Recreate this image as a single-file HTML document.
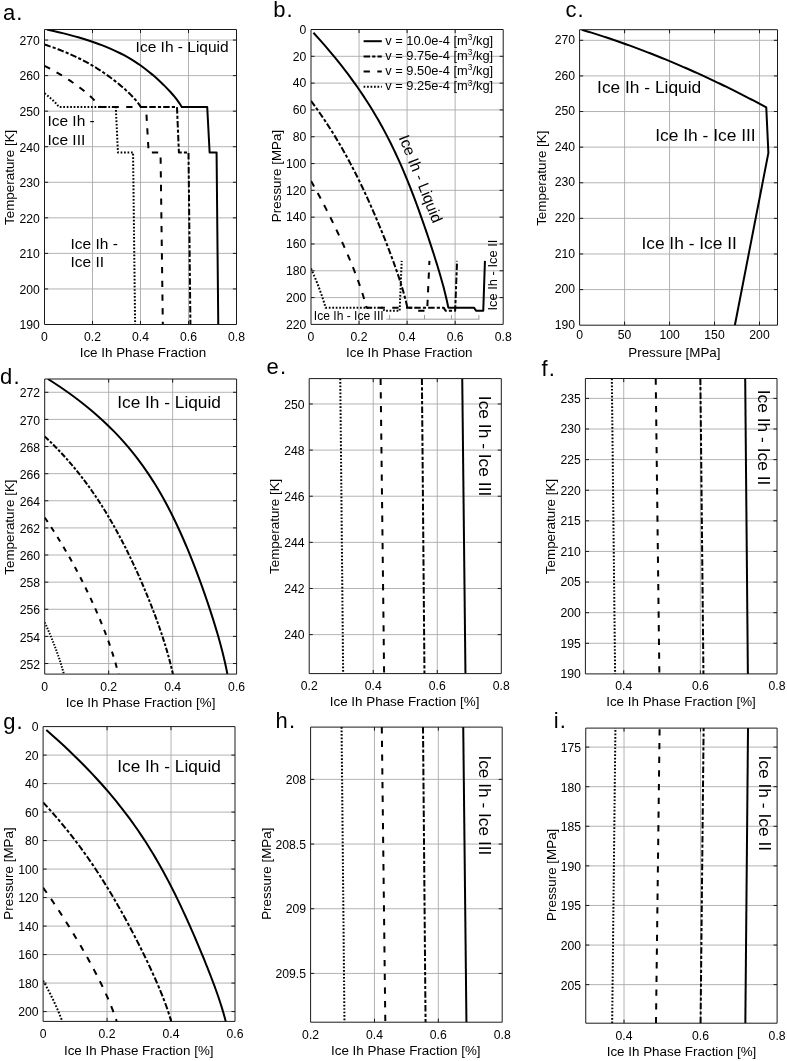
<!DOCTYPE html>
<html><head><meta charset="utf-8"><style>
html,body{margin:0;padding:0;background:#fff;font-family:"Liberation Sans",sans-serif;}
svg{display:block;}
svg{will-change:transform;}
</style></head><body>
<svg width="787" height="1061" viewBox="0 0 787 1061" font-family="'Liberation Sans', sans-serif" fill="#000">
<rect width="787" height="1061" fill="#fff"/>
<clipPath id="c1"><rect x="44.5" y="29.5" width="192.0" height="295.0"/></clipPath>
<path d="M92.50 29.5V324.5M140.50 29.5V324.5M188.50 29.5V324.5M44.5 288.94H236.5M44.5 253.39H236.5M44.5 217.83H236.5M44.5 182.28H236.5M44.5 146.72H236.5M44.5 111.17H236.5M44.5 75.61H236.5M44.5 40.06H236.5" stroke="#aaaaaa" stroke-width="0.9" fill="none"/>
<path d="M92.50 324.5v-3.6M92.50 29.5v3.6M140.50 324.5v-3.6M140.50 29.5v3.6M188.50 324.5v-3.6M188.50 29.5v3.6M44.5 288.94h3.6M236.5 288.94h-3.6M44.5 253.39h3.6M236.5 253.39h-3.6M44.5 217.83h3.6M236.5 217.83h-3.6M44.5 182.28h3.6M236.5 182.28h-3.6M44.5 146.72h3.6M236.5 146.72h-3.6M44.5 111.17h3.6M236.5 111.17h-3.6M44.5 75.61h3.6M236.5 75.61h-3.6M44.5 40.06h3.6M236.5 40.06h-3.6" stroke="#1a1a1a" stroke-width="1" fill="none"/>
<g clip-path="url(#c1)" fill="none" stroke="#000" stroke-width="2.0" stroke-linejoin="round">
<path d="M44.50 93.27 L44.73 93.45 L44.96 93.62 L45.18 93.80 L45.41 93.97 L45.63 94.14 L45.86 94.32 L46.08 94.49 L46.30 94.67 L46.52 94.84 L46.74 95.01 L46.96 95.19 L47.18 95.36 L47.39 95.53 L47.61 95.71 L47.82 95.88 L48.04 96.06 L48.25 96.23 L48.46 96.40 L48.67 96.58 L48.88 96.75 L49.09 96.93 L49.29 97.10 L49.50 97.27 L49.70 97.45 L49.91 97.62 L50.11 97.79 L50.31 97.97 L50.51 98.14 L50.71 98.32 L50.91 98.49 L51.10 98.66 L51.30 98.84 L51.49 99.01 L51.68 99.19 L51.88 99.36 L52.07 99.53 L52.26 99.71 L52.45 99.88 L52.63 100.06 L52.82 100.23 L53.00 100.40 L53.19 100.58 L53.37 100.75 L53.55 100.92 L53.73 101.10 L53.91 101.27 L54.08 101.45 L54.26 101.62 L54.44 101.79 L54.61 101.97 L54.78 102.14 L54.95 102.32 L55.12 102.49 L55.29 102.66 L55.46 102.84 L55.62 103.01 L55.78 103.18 L55.95 103.36 L56.11 103.53 L56.27 103.71 L56.43 103.88 L56.58 104.05 L56.74 104.23 L56.89 104.40 L57.05 104.58 L57.20 104.75 L57.35 104.92 L57.50 105.10 L57.64 105.27 L57.79 105.45 L57.93 105.62 L58.08 105.79 L58.22 105.97 L58.36 106.14 L58.50 106.31 L58.63 106.49 L58.77 106.66 L58.90 106.84 L59.03 107.01 L115.78 107.01 L117.94 152.41 L133.06 152.41 L135.10 324.50" stroke-dasharray="1.70 1.77"/>
<path d="M44.50 65.79 L45.53 66.31 L46.54 66.83 L47.54 67.36 L48.54 67.88 L49.52 68.40 L50.49 68.92 L51.45 69.44 L52.40 69.96 L53.34 70.49 L54.28 71.01 L55.20 71.53 L56.11 72.05 L57.02 72.57 L57.91 73.09 L58.80 73.62 L59.68 74.14 L60.55 74.66 L61.41 75.18 L62.27 75.70 L63.11 76.23 L63.95 76.75 L64.78 77.27 L65.60 77.79 L66.42 78.31 L67.23 78.83 L68.03 79.36 L68.82 79.88 L69.61 80.40 L70.39 80.92 L71.16 81.44 L71.93 81.97 L72.69 82.49 L73.44 83.01 L74.18 83.53 L74.92 84.05 L75.66 84.57 L76.38 85.10 L77.10 85.62 L77.81 86.14 L78.52 86.66 L79.22 87.18 L79.91 87.70 L80.59 88.23 L81.27 88.75 L81.94 89.27 L82.61 89.79 L83.26 90.31 L83.91 90.84 L84.56 91.36 L85.19 91.88 L85.82 92.40 L86.44 92.92 L87.06 93.44 L87.66 93.97 L88.26 94.49 L88.85 95.01 L89.44 95.53 L90.01 96.05 L90.58 96.57 L91.14 97.10 L91.69 97.62 L92.23 98.14 L92.76 98.66 L93.29 99.18 L93.80 99.71 L94.31 100.23 L94.80 100.75 L95.29 101.27 L95.76 101.79 L96.23 102.31 L96.68 102.84 L97.13 103.36 L97.56 103.88 L97.98 104.40 L98.39 104.92 L98.79 105.44 L99.18 105.97 L99.55 106.49 L99.92 107.01 L146.02 107.01 L148.66 152.41 L160.54 152.41 L162.82 324.50" stroke-dasharray="6.30 7.40"/>
<path d="M44.50 44.52 L46.89 45.31 L49.23 46.10 L51.50 46.89 L53.72 47.68 L55.88 48.47 L58.00 49.26 L60.06 50.05 L62.07 50.84 L64.03 51.64 L65.95 52.43 L67.83 53.22 L69.66 54.01 L71.45 54.80 L73.20 55.59 L74.91 56.38 L76.58 57.17 L78.22 57.96 L79.83 58.75 L81.40 59.55 L82.94 60.34 L84.44 61.13 L85.92 61.92 L87.37 62.71 L88.80 63.50 L90.19 64.29 L91.56 65.08 L92.91 65.87 L94.23 66.67 L95.54 67.46 L96.81 68.25 L98.07 69.04 L99.31 69.83 L100.53 70.62 L101.73 71.41 L102.91 72.20 L104.08 72.99 L105.23 73.78 L106.36 74.58 L107.48 75.37 L108.58 76.16 L109.67 76.95 L110.74 77.74 L111.80 78.53 L112.84 79.32 L113.88 80.11 L114.89 80.90 L115.90 81.70 L116.90 82.49 L117.88 83.28 L118.85 84.07 L119.80 84.86 L120.75 85.65 L121.68 86.44 L122.60 87.23 L123.51 88.02 L124.41 88.82 L125.29 89.61 L126.16 90.40 L127.02 91.19 L127.86 91.98 L128.70 92.77 L129.51 93.56 L130.32 94.35 L131.11 95.14 L131.88 95.93 L132.64 96.73 L133.38 97.52 L134.11 98.31 L134.81 99.10 L135.51 99.89 L136.18 100.68 L136.83 101.47 L137.46 102.26 L138.08 103.05 L138.67 103.85 L139.24 104.64 L139.78 105.43 L140.30 106.22 L140.80 107.01 L176.98 107.01 L178.90 152.41 L188.50 152.41 L190.42 324.50" stroke-dasharray="6.50 2.10 3.20 2.10"/>
<path d="M46.94 29.46 L51.34 30.45 L55.60 31.43 L59.70 32.41 L63.66 33.39 L67.49 34.37 L71.18 35.35 L74.75 36.34 L78.19 37.32 L81.51 38.30 L84.72 39.28 L87.82 40.26 L90.81 41.24 L93.69 42.23 L96.48 43.21 L99.18 44.19 L101.78 45.17 L104.29 46.15 L106.72 47.13 L109.07 48.11 L111.34 49.10 L113.54 50.08 L115.67 51.06 L117.73 52.04 L119.73 53.02 L121.66 54.00 L123.54 54.99 L125.36 55.97 L127.12 56.95 L128.84 57.93 L130.51 58.91 L132.13 59.89 L133.71 60.88 L135.25 61.86 L136.74 62.84 L138.21 63.82 L139.63 64.80 L141.03 65.78 L142.39 66.76 L143.72 67.75 L145.03 68.73 L146.31 69.71 L147.56 70.69 L148.80 71.67 L150.00 72.65 L151.19 73.64 L152.36 74.62 L153.51 75.60 L154.64 76.58 L155.75 77.56 L156.85 78.54 L157.93 79.53 L159.00 80.51 L160.05 81.49 L161.09 82.47 L162.11 83.45 L163.12 84.43 L164.11 85.41 L165.10 86.40 L166.06 87.38 L167.02 88.36 L167.96 89.34 L168.88 90.32 L169.80 91.30 L170.69 92.29 L171.57 93.27 L172.43 94.25 L173.28 95.23 L174.11 96.21 L174.92 97.19 L175.71 98.18 L176.47 99.16 L177.22 100.14 L177.94 101.12 L178.64 102.10 L179.30 103.08 L179.95 104.07 L180.56 105.05 L181.14 106.03 L181.69 107.01 L207.22 107.01 L209.62 152.41 L216.58 152.41 L218.26 324.50"/>
</g>
<path d="M44.5 29.5H236.5M44.5 324.5H236.5" stroke="#1a1a1a" stroke-width="1"/>
<path d="M44.5 29.5V324.5" stroke="#1a1a1a" stroke-width="1"/>
<path d="M236.5 29.5V324.5" stroke="#1a1a1a" stroke-width="1"/>
<text x="44.50" y="340.90" text-anchor="middle" font-size="12.2">0</text>
<text x="92.50" y="340.90" text-anchor="middle" font-size="12.2">0.2</text>
<text x="140.50" y="340.90" text-anchor="middle" font-size="12.2">0.4</text>
<text x="188.50" y="340.90" text-anchor="middle" font-size="12.2">0.6</text>
<text x="236.50" y="340.90" text-anchor="middle" font-size="12.2">0.8</text>
<text x="39.90" y="329.30" text-anchor="end" font-size="12.2">190</text>
<text x="39.90" y="293.74" text-anchor="end" font-size="12.2">200</text>
<text x="39.90" y="258.19" text-anchor="end" font-size="12.2">210</text>
<text x="39.90" y="222.63" text-anchor="end" font-size="12.2">220</text>
<text x="39.90" y="187.08" text-anchor="end" font-size="12.2">230</text>
<text x="39.90" y="151.52" text-anchor="end" font-size="12.2">240</text>
<text x="39.90" y="115.97" text-anchor="end" font-size="12.2">250</text>
<text x="39.90" y="80.41" text-anchor="end" font-size="12.2">260</text>
<text x="39.90" y="44.86" text-anchor="end" font-size="12.2">270</text>
<text x="142.95" y="356.80" text-anchor="middle" font-size="13.4">Ice Ih Phase Fraction</text>
<text transform="translate(14.20 177.30) rotate(-90)" text-anchor="middle" font-size="13.4">Temperature [K]</text>
<text x="3.0" y="19.5" font-size="22" letter-spacing="1.1">a.</text>
<text x="135.6" y="51.5" font-size="15.5">Ice Ih - Liquid</text>
<text x="47.4" y="126.4" font-size="15.5">Ice Ih -</text><text x="47.4" y="144.7" font-size="15.5">Ice III</text>
<text x="70.5" y="248.7" font-size="15.5">Ice Ih -</text><text x="70.5" y="267.4" font-size="15.5">Ice II</text>
<clipPath id="c2"><rect x="311.0" y="29.5" width="192.2" height="294.9"/></clipPath>
<path d="M359.05 29.5V324.4M407.10 29.5V324.4M455.15 29.5V324.4M311.0 56.31H503.2M311.0 83.12H503.2M311.0 109.93H503.2M311.0 136.74H503.2M311.0 163.55H503.2M311.0 190.35H503.2M311.0 217.16H503.2M311.0 243.97H503.2M311.0 270.78H503.2M311.0 297.59H503.2" stroke="#aaaaaa" stroke-width="0.9" fill="none"/>
<path d="M359.05 324.4v-3.6M359.05 29.5v3.6M407.10 324.4v-3.6M407.10 29.5v3.6M455.15 324.4v-3.6M455.15 29.5v3.6M311.0 56.31h3.6M503.2 56.31h-3.6M311.0 83.12h3.6M503.2 83.12h-3.6M311.0 109.93h3.6M503.2 109.93h-3.6M311.0 136.74h3.6M503.2 136.74h-3.6M311.0 163.55h3.6M503.2 163.55h-3.6M311.0 190.35h3.6M503.2 190.35h-3.6M311.0 217.16h3.6M503.2 217.16h-3.6M311.0 243.97h3.6M503.2 243.97h-3.6M311.0 270.78h3.6M503.2 270.78h-3.6M311.0 297.59h3.6M503.2 297.59h-3.6" stroke="#1a1a1a" stroke-width="1" fill="none"/>
<g clip-path="url(#c2)" fill="none" stroke="#000" stroke-width="2.0" stroke-linejoin="round">
<path d="M311.00 268.46 L311.23 268.97 L311.46 269.48 L311.68 269.99 L311.91 270.51 L312.13 271.02 L312.36 271.53 L312.58 272.03 L312.80 272.54 L313.02 273.05 L313.24 273.56 L313.46 274.07 L313.68 274.58 L313.90 275.08 L314.11 275.59 L314.33 276.09 L314.54 276.60 L314.75 277.10 L314.96 277.61 L315.17 278.11 L315.38 278.62 L315.59 279.12 L315.80 279.62 L316.00 280.13 L316.21 280.63 L316.41 281.13 L316.61 281.63 L316.81 282.13 L317.02 282.63 L317.21 283.13 L317.41 283.63 L317.61 284.13 L317.80 284.63 L318.00 285.13 L318.19 285.63 L318.38 286.13 L318.58 286.62 L318.76 287.12 L318.95 287.62 L319.14 288.11 L319.33 288.61 L319.51 289.10 L319.70 289.60 L319.88 290.09 L320.06 290.59 L320.24 291.08 L320.42 291.57 L320.59 292.07 L320.77 292.56 L320.95 293.05 L321.12 293.54 L321.29 294.04 L321.46 294.53 L321.63 295.02 L321.80 295.51 L321.97 296.00 L322.13 296.49 L322.30 296.98 L322.46 297.46 L322.62 297.95 L322.78 298.44 L322.94 298.93 L323.10 299.42 L323.25 299.90 L323.41 300.39 L323.56 300.88 L323.71 301.36 L323.86 301.85 L324.01 302.33 L324.16 302.82 L324.30 303.30 L324.45 303.79 L324.59 304.27 L324.73 304.75 L324.87 305.24 L325.01 305.72 L325.15 306.20 L325.28 306.68 L325.42 307.16 L325.55 307.64 L382.35 307.64 L384.52 310.82 L399.65 310.82 L401.69 260.86" stroke-dasharray="1.70 1.77"/>
<path d="M311.00 181.01 L312.03 182.81 L313.04 184.61 L314.05 186.40 L315.04 188.18 L316.02 189.96 L317.00 191.73 L317.96 193.50 L318.91 195.26 L319.85 197.01 L320.79 198.75 L321.71 200.50 L322.62 202.23 L323.53 203.96 L324.43 205.68 L325.32 207.40 L326.19 209.11 L327.07 210.82 L327.93 212.52 L328.78 214.22 L329.63 215.91 L330.47 217.59 L331.30 219.27 L332.13 220.94 L332.94 222.61 L333.75 224.28 L334.55 225.94 L335.35 227.59 L336.14 229.24 L336.92 230.88 L337.69 232.52 L338.46 234.15 L339.22 235.78 L339.97 237.41 L340.72 239.03 L341.46 240.64 L342.19 242.25 L342.91 243.86 L343.63 245.46 L344.35 247.06 L345.05 248.65 L345.75 250.24 L346.44 251.82 L347.13 253.40 L347.81 254.97 L348.48 256.54 L349.15 258.11 L349.80 259.67 L350.45 261.23 L351.10 262.79 L351.74 264.33 L352.37 265.88 L352.99 267.42 L353.60 268.96 L354.21 270.49 L354.81 272.02 L355.40 273.55 L355.98 275.07 L356.56 276.59 L357.13 278.10 L357.69 279.61 L358.24 281.12 L358.78 282.63 L359.31 284.12 L359.84 285.62 L360.35 287.11 L360.86 288.60 L361.35 290.09 L361.84 291.57 L362.32 293.05 L362.78 294.52 L363.24 295.99 L363.68 297.46 L364.12 298.93 L364.54 300.39 L364.95 301.85 L365.35 303.30 L365.74 304.75 L366.11 306.20 L366.47 307.64 L412.63 307.64 L415.27 310.82 L427.16 310.82 L429.44 260.86" stroke-dasharray="6.30 7.40"/>
<path d="M311.00 100.82 L313.40 104.08 L315.73 107.31 L318.01 110.52 L320.23 113.71 L322.40 116.87 L324.51 120.01 L326.57 123.12 L328.59 126.22 L330.55 129.29 L332.48 132.34 L334.35 135.37 L336.18 138.38 L337.98 141.36 L339.73 144.33 L341.44 147.28 L343.12 150.21 L344.76 153.13 L346.36 156.02 L347.94 158.90 L349.48 161.75 L350.99 164.60 L352.47 167.42 L353.92 170.23 L355.34 173.02 L356.74 175.80 L358.11 178.56 L359.46 181.30 L360.79 184.03 L362.09 186.74 L363.37 189.44 L364.63 192.13 L365.87 194.80 L367.09 197.46 L368.29 200.10 L369.47 202.73 L370.64 205.35 L371.79 207.95 L372.92 210.54 L374.04 213.12 L375.15 215.69 L376.23 218.24 L377.31 220.78 L378.37 223.31 L379.41 225.83 L380.45 228.33 L381.47 230.83 L382.48 233.31 L383.47 235.78 L384.45 238.24 L385.42 240.69 L386.38 243.13 L387.33 245.56 L388.26 247.98 L389.18 250.39 L390.09 252.79 L390.99 255.18 L391.87 257.56 L392.75 259.92 L393.61 262.28 L394.45 264.63 L395.28 266.97 L396.10 269.31 L396.91 271.63 L397.70 273.94 L398.47 276.25 L399.23 278.54 L399.97 280.83 L400.70 283.11 L401.41 285.38 L402.10 287.64 L402.77 289.90 L403.43 292.14 L404.06 294.38 L404.68 296.61 L405.27 298.83 L405.84 301.05 L406.38 303.25 L406.90 305.45 L407.40 307.64 L443.62 307.64 L445.54 310.82 L455.15 310.82 L457.07 260.86" stroke-dasharray="6.50 2.10 3.20 2.10"/>
<path d="M313.44 32.72 L317.85 37.59 L322.11 42.39 L326.22 47.12 L330.18 51.78 L334.02 56.38 L337.71 60.92 L341.28 65.41 L344.73 69.84 L348.05 74.21 L351.26 78.54 L354.36 82.81 L357.36 87.04 L360.25 91.23 L363.04 95.37 L365.73 99.46 L368.34 103.52 L370.85 107.53 L373.29 111.51 L375.64 115.45 L377.91 119.35 L380.11 123.22 L382.24 127.06 L384.31 130.86 L386.30 134.62 L388.24 138.36 L390.12 142.07 L391.94 145.74 L393.71 149.39 L395.43 153.00 L397.10 156.59 L398.72 160.16 L400.30 163.69 L401.84 167.20 L403.34 170.68 L404.80 174.14 L406.23 177.58 L407.63 180.99 L408.99 184.37 L410.33 187.74 L411.64 191.08 L412.92 194.40 L414.17 197.70 L415.40 200.97 L416.61 204.23 L417.80 207.46 L418.97 210.68 L420.12 213.88 L421.25 217.05 L422.37 220.21 L423.47 223.35 L424.55 226.47 L425.62 229.58 L426.67 232.66 L427.71 235.73 L428.73 238.78 L429.74 241.82 L430.74 244.84 L431.72 247.84 L432.69 250.83 L433.65 253.80 L434.59 256.76 L435.51 259.70 L436.43 262.63 L437.32 265.54 L438.20 268.44 L439.07 271.33 L439.91 274.20 L440.74 277.05 L441.55 279.90 L442.34 282.73 L443.11 285.55 L443.86 288.35 L444.58 291.14 L445.27 293.92 L445.95 296.69 L446.59 299.45 L447.20 302.19 L447.78 304.92 L448.33 307.64 L473.89 307.64 L476.29 310.82 L483.26 310.82 L484.94 260.86"/>
</g>
<path d="M311.0 29.5H503.2M311.0 324.4H503.2" stroke="#1a1a1a" stroke-width="1"/>
<path d="M311.0 29.5V324.4" stroke="#1a1a1a" stroke-width="1"/>
<path d="M503.2 29.5V324.4" stroke="#1a1a1a" stroke-width="1"/>
<text x="311.00" y="340.60" text-anchor="middle" font-size="12.2">0</text>
<text x="359.05" y="340.60" text-anchor="middle" font-size="12.2">0.2</text>
<text x="407.10" y="340.60" text-anchor="middle" font-size="12.2">0.4</text>
<text x="455.15" y="340.60" text-anchor="middle" font-size="12.2">0.6</text>
<text x="503.20" y="340.60" text-anchor="middle" font-size="12.2">0.8</text>
<text x="306.40" y="33.80" text-anchor="end" font-size="12.2">0</text>
<text x="306.40" y="60.61" text-anchor="end" font-size="12.2">20</text>
<text x="306.40" y="87.42" text-anchor="end" font-size="12.2">40</text>
<text x="306.40" y="114.23" text-anchor="end" font-size="12.2">60</text>
<text x="306.40" y="141.04" text-anchor="end" font-size="12.2">80</text>
<text x="306.40" y="167.85" text-anchor="end" font-size="12.2">100</text>
<text x="306.40" y="194.65" text-anchor="end" font-size="12.2">120</text>
<text x="306.40" y="221.46" text-anchor="end" font-size="12.2">140</text>
<text x="306.40" y="248.27" text-anchor="end" font-size="12.2">160</text>
<text x="306.40" y="275.08" text-anchor="end" font-size="12.2">180</text>
<text x="306.40" y="301.89" text-anchor="end" font-size="12.2">200</text>
<text x="306.40" y="328.70" text-anchor="end" font-size="12.2">220</text>
<text x="409.30" y="357.30" text-anchor="middle" font-size="13.4">Ice Ih Phase Fraction</text>
<text transform="translate(280.80 176.00) rotate(-90)" text-anchor="middle" font-size="13.4">Pressure [MPa]</text>
<text x="273.2" y="16.7" font-size="22" letter-spacing="1.1">b.</text>
<path d="M363.6 41.2H381.8" stroke="#000" stroke-width="2.0"/>
<text x="385.3" y="44.55" font-size="12.85">v = 10.0e-4 [m<tspan font-size="8.3" dy="-4.6">3</tspan><tspan dy="4.6">/kg]</tspan></text>
<path d="M363.6 56.400000000000006H381.8" stroke="#000" stroke-width="2.0" stroke-dasharray="6.5 2.1 3.2 2.1"/>
<text x="385.3" y="59.75" font-size="12.85">v = 9.75e-4 [m<tspan font-size="8.3" dy="-4.6">3</tspan><tspan dy="4.6">/kg]</tspan></text>
<path d="M363.6 71.6H381.8" stroke="#000" stroke-width="2.0" stroke-dasharray="6.3 7.4"/>
<text x="385.3" y="74.95" font-size="12.85">v = 9.50e-4 [m<tspan font-size="8.3" dy="-4.6">3</tspan><tspan dy="4.6">/kg]</tspan></text>
<path d="M363.6 86.8H381.8" stroke="#000" stroke-width="2.0" stroke-dasharray="1.7 1.77"/>
<text x="385.3" y="90.15" font-size="12.85">v = 9.25e-4 [m<tspan font-size="8.3" dy="-4.6">3</tspan><tspan dy="4.6">/kg]</tspan></text>
<text transform="translate(398.6 137.6) rotate(68.3)" font-size="15.5">Ice Ih - Liquid</text>
<text transform="translate(497.3 310.6) rotate(-90)" font-size="12.9">Ice Ih - Ice II</text>
<text x="313.8" y="319.5" font-size="12.1">Ice Ih - Ice III</text>
<path d="M386.3 319.2H479.4M389.6 319.2V315M424.5 319.2V315M451.5 319.2V315M478.9 319.2V315" stroke="#888" stroke-width="0.8" fill="none"/>
<clipPath id="c3"><rect x="579.6" y="29.7" width="197.89999999999998" height="295.5"/></clipPath>
<path d="M624.58 29.7V325.2M669.55 29.7V325.2M714.53 29.7V325.2M759.51 29.7V325.2M579.6 289.59H777.5M579.6 253.98H777.5M579.6 218.37H777.5M579.6 182.76H777.5M579.6 147.15H777.5M579.6 111.53H777.5M579.6 75.92H777.5M579.6 40.31H777.5" stroke="#aaaaaa" stroke-width="0.9" fill="none"/>
<path d="M624.58 325.2v-3.6M624.58 29.7v3.6M669.55 325.2v-3.6M669.55 29.7v3.6M714.53 325.2v-3.6M714.53 29.7v3.6M759.51 325.2v-3.6M759.51 29.7v3.6M579.6 289.59h3.6M777.5 289.59h-3.6M579.6 253.98h3.6M777.5 253.98h-3.6M579.6 218.37h3.6M777.5 218.37h-3.6M579.6 182.76h3.6M777.5 182.76h-3.6M579.6 147.15h3.6M777.5 147.15h-3.6M579.6 111.53h3.6M777.5 111.53h-3.6M579.6 75.92h3.6M777.5 75.92h-3.6M579.6 40.31h3.6M777.5 40.31h-3.6" stroke="#1a1a1a" stroke-width="1" fill="none"/>
<g clip-path="url(#c3)" fill="none" stroke="#000" stroke-width="2.0" stroke-linejoin="round">
<path d="M581.76 29.70 L585.03 30.68 L588.25 31.67 L591.42 32.65 L594.55 33.63 L597.64 34.62 L600.69 35.60 L603.70 36.58 L606.67 37.57 L609.61 38.55 L612.51 39.53 L615.38 40.51 L618.22 41.50 L621.02 42.48 L623.80 43.46 L626.55 44.45 L629.27 45.43 L631.97 46.41 L634.64 47.40 L637.28 48.38 L639.90 49.36 L642.49 50.35 L645.07 51.33 L647.62 52.31 L650.15 53.30 L652.65 54.28 L655.14 55.26 L657.61 56.24 L660.05 57.23 L662.48 58.21 L664.89 59.19 L667.28 60.18 L669.65 61.16 L672.01 62.14 L674.34 63.13 L676.67 64.11 L678.97 65.09 L681.26 66.08 L683.53 67.06 L685.79 68.04 L688.03 69.03 L690.26 70.01 L692.47 70.99 L694.67 71.97 L696.86 72.96 L699.03 73.94 L701.19 74.92 L703.33 75.91 L705.46 76.89 L707.58 77.87 L709.69 78.86 L711.78 79.84 L713.87 80.82 L715.94 81.81 L718.00 82.79 L720.05 83.77 L722.08 84.76 L724.11 85.74 L726.12 86.72 L728.13 87.70 L730.12 88.69 L732.11 89.67 L734.08 90.65 L736.05 91.64 L738.00 92.62 L739.95 93.60 L741.88 94.59 L743.81 95.57 L745.73 96.55 L747.64 97.54 L749.54 98.52 L751.43 99.50 L753.31 100.49 L755.18 101.47 L757.05 102.45 L758.91 103.44 L760.75 104.42 L762.60 105.40 L764.43 106.38 L766.26 107.37 L768.39 152.84 L734.86 325.20"/>
</g>
<path d="M579.6 29.7H777.5M579.6 325.2H777.5" stroke="#1a1a1a" stroke-width="1"/>
<path d="M579.6 29.7V325.2" stroke="#1a1a1a" stroke-width="1"/>
<path d="M777.5 29.7V325.2" stroke="#1a1a1a" stroke-width="1"/>
<text x="579.60" y="338.80" text-anchor="middle" font-size="12.2">0</text>
<text x="624.58" y="338.80" text-anchor="middle" font-size="12.2">50</text>
<text x="669.55" y="338.80" text-anchor="middle" font-size="12.2">100</text>
<text x="714.53" y="338.80" text-anchor="middle" font-size="12.2">150</text>
<text x="759.51" y="338.80" text-anchor="middle" font-size="12.2">200</text>
<text x="575.00" y="328.90" text-anchor="end" font-size="12.2">190</text>
<text x="575.00" y="293.29" text-anchor="end" font-size="12.2">200</text>
<text x="575.00" y="257.68" text-anchor="end" font-size="12.2">210</text>
<text x="575.00" y="222.07" text-anchor="end" font-size="12.2">220</text>
<text x="575.00" y="186.46" text-anchor="end" font-size="12.2">230</text>
<text x="575.00" y="150.85" text-anchor="end" font-size="12.2">240</text>
<text x="575.00" y="115.23" text-anchor="end" font-size="12.2">250</text>
<text x="575.00" y="79.62" text-anchor="end" font-size="12.2">260</text>
<text x="575.00" y="44.01" text-anchor="end" font-size="12.2">270</text>
<text x="674.40" y="357.00" text-anchor="middle" font-size="13.4">Pressure [MPa]</text>
<text transform="translate(545.90 178.20) rotate(-90)" text-anchor="middle" font-size="13.4">Temperature [K]</text>
<text x="565.4" y="17.0" font-size="22" letter-spacing="1.1">c.</text>
<text x="597.1" y="93.3" font-size="17.35">Ice Ih - Liquid</text>
<text x="655.2" y="140.7" font-size="17.4">Ice Ih - Ice III</text>
<text x="641.4" y="248.6" font-size="17.35">Ice Ih - Ice II</text>
<clipPath id="c4"><rect x="44.7" y="379.0" width="191.89999999999998" height="295.1"/></clipPath>
<path d="M108.67 379.0V674.1M172.63 379.0V674.1M44.7 663.52H236.6M44.7 636.40H236.6M44.7 609.28H236.6M44.7 582.15H236.6M44.7 555.03H236.6M44.7 527.91H236.6M44.7 500.78H236.6M44.7 473.66H236.6M44.7 446.54H236.6M44.7 419.41H236.6M44.7 392.29H236.6" stroke="#aaaaaa" stroke-width="0.9" fill="none"/>
<path d="M108.67 674.1v-3.6M108.67 379.0v3.6M172.63 674.1v-3.6M172.63 379.0v3.6M44.7 663.52h3.6M236.6 663.52h-3.6M44.7 636.40h3.6M236.6 636.40h-3.6M44.7 609.28h3.6M236.6 609.28h-3.6M44.7 582.15h3.6M236.6 582.15h-3.6M44.7 555.03h3.6M236.6 555.03h-3.6M44.7 527.91h3.6M236.6 527.91h-3.6M44.7 500.78h3.6M236.6 500.78h-3.6M44.7 473.66h3.6M236.6 473.66h-3.6M44.7 446.54h3.6M236.6 446.54h-3.6M44.7 419.41h3.6M236.6 419.41h-3.6M44.7 392.29h3.6M236.6 392.29h-3.6" stroke="#1a1a1a" stroke-width="1" fill="none"/>
<g clip-path="url(#c4)" fill="none" stroke="#000" stroke-width="2.0" stroke-linejoin="round">
<path d="M44.70 622.39 L45.00 623.05 L45.31 623.71 L45.61 624.38 L45.91 625.04 L46.21 625.70 L46.51 626.37 L46.80 627.03 L47.10 627.69 L47.39 628.36 L47.69 629.02 L47.98 629.68 L48.27 630.35 L48.56 631.01 L48.84 631.67 L49.13 632.33 L49.41 633.00 L49.69 633.66 L49.98 634.32 L50.26 634.99 L50.53 635.65 L50.81 636.31 L51.09 636.98 L51.36 637.64 L51.63 638.30 L51.90 638.97 L52.17 639.63 L52.44 640.29 L52.71 640.96 L52.97 641.62 L53.24 642.28 L53.50 642.95 L53.76 643.61 L54.02 644.27 L54.27 644.93 L54.53 645.60 L54.78 646.26 L55.04 646.92 L55.29 647.59 L55.54 648.25 L55.78 648.91 L56.03 649.58 L56.28 650.24 L56.52 650.90 L56.76 651.57 L57.00 652.23 L57.24 652.89 L57.47 653.56 L57.71 654.22 L57.94 654.88 L58.17 655.55 L58.40 656.21 L58.63 656.87 L58.85 657.54 L59.08 658.20 L59.30 658.86 L59.52 659.52 L59.74 660.19 L59.96 660.85 L60.17 661.51 L60.38 662.18 L60.59 662.84 L60.80 663.50 L61.01 664.17 L61.22 664.83 L61.42 665.49 L61.62 666.16 L61.82 666.82 L62.02 667.48 L62.22 668.15 L62.41 668.81 L62.60 669.47 L62.79 670.14 L62.98 670.80 L63.17 671.46 L63.35 672.13 L63.53 672.79 L63.71 673.45 L63.89 674.11 L64.07 674.78" stroke-dasharray="1.44 1.50"/>
<path d="M44.70 517.56 L46.07 519.55 L47.42 521.54 L48.76 523.53 L50.08 525.52 L51.39 527.51 L52.68 529.50 L53.96 531.49 L55.23 533.48 L56.49 535.47 L57.73 537.46 L58.96 539.45 L60.18 541.44 L61.38 543.43 L62.57 545.42 L63.76 547.41 L64.93 549.40 L66.09 551.39 L67.24 553.38 L68.37 555.37 L69.50 557.36 L70.62 559.35 L71.73 561.34 L72.82 563.33 L73.91 565.32 L74.99 567.31 L76.06 569.30 L77.11 571.29 L78.16 573.28 L79.20 575.27 L80.23 577.26 L81.25 579.25 L82.26 581.24 L83.27 583.23 L84.26 585.22 L85.24 587.21 L86.22 589.20 L87.19 591.19 L88.14 593.18 L89.09 595.17 L90.03 597.16 L90.96 599.15 L91.88 601.14 L92.80 603.13 L93.70 605.12 L94.60 607.11 L95.48 609.10 L96.36 611.09 L97.22 613.08 L98.08 615.07 L98.93 617.06 L99.77 619.05 L100.60 621.04 L101.41 623.03 L102.22 625.02 L103.02 627.01 L103.81 629.00 L104.59 630.99 L105.35 632.98 L106.11 634.97 L106.85 636.97 L107.58 638.96 L108.31 640.95 L109.02 642.94 L109.71 644.93 L110.40 646.92 L111.07 648.91 L111.73 650.90 L112.38 652.89 L113.01 654.88 L113.63 656.87 L114.24 658.86 L114.83 660.85 L115.41 662.84 L115.97 664.83 L116.52 666.82 L117.05 668.81 L117.57 670.80 L118.07 672.79 L118.55 674.78" stroke-dasharray="5.32 6.25"/>
<path d="M44.70 436.41 L47.89 439.43 L51.00 442.44 L54.03 445.46 L56.99 448.48 L59.87 451.49 L62.69 454.51 L65.43 457.53 L68.11 460.55 L70.73 463.56 L73.29 466.58 L75.79 469.60 L78.23 472.62 L80.61 475.63 L82.94 478.65 L85.22 481.67 L87.46 484.69 L89.64 487.70 L91.78 490.72 L93.87 493.74 L95.92 496.75 L97.93 499.77 L99.90 502.79 L101.84 505.81 L103.73 508.82 L105.59 511.84 L107.42 514.86 L109.21 517.88 L110.98 520.89 L112.71 523.91 L114.42 526.93 L116.09 529.95 L117.74 532.96 L119.37 535.98 L120.97 539.00 L122.54 542.02 L124.10 545.03 L125.63 548.05 L127.14 551.07 L128.63 554.08 L130.09 557.10 L131.54 560.12 L132.97 563.14 L134.38 566.15 L135.78 569.17 L137.15 572.19 L138.51 575.21 L139.85 578.22 L141.18 581.24 L142.49 584.26 L143.78 587.28 L145.05 590.29 L146.31 593.31 L147.56 596.33 L148.78 599.34 L149.99 602.36 L151.19 605.38 L152.36 608.40 L153.53 611.41 L154.67 614.43 L155.79 617.45 L156.90 620.47 L157.99 623.48 L159.06 626.50 L160.11 629.52 L161.15 632.54 L162.16 635.55 L163.15 638.57 L164.11 641.59 L165.06 644.60 L165.98 647.62 L166.87 650.64 L167.74 653.66 L168.59 656.67 L169.41 659.69 L170.19 662.71 L170.95 665.73 L171.68 668.74 L172.37 671.76 L173.03 674.78" stroke-dasharray="5.49 1.77 2.70 1.77"/>
<path d="M47.95 379.00 L53.82 382.74 L59.49 386.49 L64.96 390.23 L70.24 393.98 L75.34 397.72 L80.26 401.46 L85.01 405.21 L89.60 408.95 L94.03 412.70 L98.30 416.44 L102.43 420.18 L106.41 423.93 L110.26 427.67 L113.97 431.42 L117.56 435.16 L121.03 438.90 L124.38 442.65 L127.62 446.39 L130.75 450.14 L133.78 453.88 L136.71 457.62 L139.54 461.37 L142.29 465.11 L144.95 468.86 L147.53 472.60 L150.03 476.34 L152.45 480.09 L154.81 483.83 L157.09 487.58 L159.32 491.32 L161.48 495.06 L163.58 498.81 L165.63 502.55 L167.63 506.30 L169.58 510.04 L171.48 513.78 L173.34 517.53 L175.15 521.27 L176.93 525.02 L178.67 528.76 L180.38 532.51 L182.05 536.25 L183.69 539.99 L185.30 543.74 L186.88 547.48 L188.44 551.23 L189.97 554.97 L191.48 558.71 L192.96 562.46 L194.42 566.20 L195.86 569.95 L197.28 573.69 L198.69 577.43 L200.07 581.18 L201.43 584.92 L202.78 588.67 L204.10 592.41 L205.41 596.15 L206.70 599.90 L207.97 603.64 L209.23 607.39 L210.46 611.13 L211.67 614.87 L212.87 618.62 L214.04 622.36 L215.19 626.11 L216.32 629.85 L217.42 633.59 L218.50 637.34 L219.55 641.08 L220.57 644.83 L221.56 648.57 L222.53 652.31 L223.45 656.06 L224.35 659.80 L225.20 663.55 L226.02 667.29 L226.79 671.03 L227.52 674.78"/>
</g>
<path d="M44.7 379.0H236.6M44.7 674.1H236.6" stroke="#1a1a1a" stroke-width="1"/>
<path d="M44.7 379.0V674.1" stroke="#1a1a1a" stroke-width="1"/>
<path d="M236.6 379.0V674.1" stroke="#1a1a1a" stroke-width="1"/>
<text x="44.70" y="690.50" text-anchor="middle" font-size="12.2">0</text>
<text x="108.67" y="690.50" text-anchor="middle" font-size="12.2">0.2</text>
<text x="172.63" y="690.50" text-anchor="middle" font-size="12.2">0.4</text>
<text x="236.60" y="690.50" text-anchor="middle" font-size="12.2">0.6</text>
<text x="40.10" y="668.72" text-anchor="end" font-size="12.2">252</text>
<text x="40.10" y="641.60" text-anchor="end" font-size="12.2">254</text>
<text x="40.10" y="614.48" text-anchor="end" font-size="12.2">256</text>
<text x="40.10" y="587.35" text-anchor="end" font-size="12.2">258</text>
<text x="40.10" y="560.23" text-anchor="end" font-size="12.2">260</text>
<text x="40.10" y="533.11" text-anchor="end" font-size="12.2">262</text>
<text x="40.10" y="505.98" text-anchor="end" font-size="12.2">264</text>
<text x="40.10" y="478.86" text-anchor="end" font-size="12.2">266</text>
<text x="40.10" y="451.74" text-anchor="end" font-size="12.2">268</text>
<text x="40.10" y="424.61" text-anchor="end" font-size="12.2">270</text>
<text x="40.10" y="397.49" text-anchor="end" font-size="12.2">272</text>
<text x="140.60" y="706.70" text-anchor="middle" font-size="13.4">Ice Ih Phase Fraction [%]</text>
<text transform="translate(14.10 527.10) rotate(-90)" text-anchor="middle" font-size="13.4">Temperature [K]</text>
<text x="0.1" y="383.9" font-size="22" letter-spacing="1.1">d.</text>
<text x="117.2" y="408.0" font-size="17.3">Ice Ih - Liquid</text>
<clipPath id="c5"><rect x="309.2" y="378.6" width="192.10000000000002" height="295.0"/></clipPath>
<path d="M373.23 378.6V673.6M437.27 378.6V673.6M309.2 634.62H501.3M309.2 588.49H501.3M309.2 542.36H501.3M309.2 496.23H501.3M309.2 450.10H501.3M309.2 403.97H501.3" stroke="#aaaaaa" stroke-width="0.9" fill="none"/>
<path d="M373.23 673.6v-3.6M373.23 378.6v3.6M437.27 673.6v-3.6M437.27 378.6v3.6M309.2 634.62h3.6M501.3 634.62h-3.6M309.2 588.49h3.6M501.3 588.49h-3.6M309.2 542.36h3.6M501.3 542.36h-3.6M309.2 496.23h3.6M501.3 496.23h-3.6M309.2 450.10h3.6M501.3 450.10h-3.6M309.2 403.97h3.6M501.3 403.97h-3.6" stroke="#1a1a1a" stroke-width="1" fill="none"/>
<g clip-path="url(#c5)" fill="none" stroke="#000" stroke-width="2.0" stroke-linejoin="round">
<path d="M340.26 378.60 L343.14 673.60" stroke-dasharray="1.70 1.77"/>
<path d="M380.60 378.60 L384.12 673.60" stroke-dasharray="6.30 7.40"/>
<path d="M421.90 378.60 L424.46 673.60" stroke-dasharray="6.50 2.10 3.20 2.10"/>
<path d="M462.24 378.60 L465.44 673.60"/>
</g>
<path d="M309.2 378.6H501.3M309.2 673.6H501.3" stroke="#1a1a1a" stroke-width="1"/>
<path d="M309.2 378.6V673.6" stroke="#1a1a1a" stroke-width="1"/>
<path d="M501.3 378.6V673.6" stroke="#1a1a1a" stroke-width="1"/>
<text x="309.20" y="689.80" text-anchor="middle" font-size="12.2">0.2</text>
<text x="373.23" y="689.80" text-anchor="middle" font-size="12.2">0.4</text>
<text x="437.27" y="689.80" text-anchor="middle" font-size="12.2">0.6</text>
<text x="501.30" y="689.80" text-anchor="middle" font-size="12.2">0.8</text>
<text x="304.60" y="639.22" text-anchor="end" font-size="12.2">240</text>
<text x="304.60" y="593.09" text-anchor="end" font-size="12.2">242</text>
<text x="304.60" y="546.96" text-anchor="end" font-size="12.2">244</text>
<text x="304.60" y="500.83" text-anchor="end" font-size="12.2">246</text>
<text x="304.60" y="454.70" text-anchor="end" font-size="12.2">248</text>
<text x="304.60" y="408.57" text-anchor="end" font-size="12.2">250</text>
<text x="404.60" y="706.00" text-anchor="middle" font-size="13.4">Ice Ih Phase Fraction [%]</text>
<text transform="translate(279.20 526.30) rotate(-90)" text-anchor="middle" font-size="13.4">Temperature [K]</text>
<text x="266.6" y="373.5" font-size="22" letter-spacing="1.1">e.</text>
<text transform="translate(478.6 395.8) rotate(90)" font-size="17.4">Ice Ih - Ice III</text>
<clipPath id="c6"><rect x="585.4" y="378.5" width="191.60000000000002" height="295.4"/></clipPath>
<path d="M623.72 378.5V673.9M700.36 378.5V673.9M585.4 643.29H777.0M585.4 612.68H777.0M585.4 582.07H777.0M585.4 551.45H777.0M585.4 520.84H777.0M585.4 490.23H777.0M585.4 459.62H777.0M585.4 429.01H777.0M585.4 398.40H777.0" stroke="#aaaaaa" stroke-width="0.9" fill="none"/>
<path d="M623.72 673.9v-3.6M623.72 378.5v3.6M700.36 673.9v-3.6M700.36 378.5v3.6M585.4 643.29h3.6M777.0 643.29h-3.6M585.4 612.68h3.6M777.0 612.68h-3.6M585.4 582.07h3.6M777.0 582.07h-3.6M585.4 551.45h3.6M777.0 551.45h-3.6M585.4 520.84h3.6M777.0 520.84h-3.6M585.4 490.23h3.6M777.0 490.23h-3.6M585.4 459.62h3.6M777.0 459.62h-3.6M585.4 429.01h3.6M777.0 429.01h-3.6M585.4 398.40h3.6M777.0 398.40h-3.6" stroke="#1a1a1a" stroke-width="1" fill="none"/>
<g clip-path="url(#c6)" fill="none" stroke="#000" stroke-width="2.0" stroke-linejoin="round">
<path d="M611.84 378.50 L615.10 673.90" stroke-dasharray="1.70 1.77"/>
<path d="M655.72 378.50 L659.36 673.90" stroke-dasharray="6.30 7.40"/>
<path d="M700.36 378.50 L703.43 673.90" stroke-dasharray="6.50 2.10 3.20 2.10"/>
<path d="M745.19 378.50 L747.88 673.90"/>
</g>
<path d="M585.4 378.5H777.0M585.4 673.9H777.0" stroke="#1a1a1a" stroke-width="1"/>
<path d="M585.4 378.5V673.9" stroke="#1a1a1a" stroke-width="1"/>
<path d="M777.0 378.5V673.9" stroke="#1a1a1a" stroke-width="1"/>
<text x="623.72" y="690.30" text-anchor="middle" font-size="12.2">0.4</text>
<text x="700.36" y="690.30" text-anchor="middle" font-size="12.2">0.6</text>
<text x="777.00" y="690.30" text-anchor="middle" font-size="12.2">0.8</text>
<text x="580.80" y="678.25" text-anchor="end" font-size="12.2">190</text>
<text x="580.80" y="647.64" text-anchor="end" font-size="12.2">195</text>
<text x="580.80" y="617.03" text-anchor="end" font-size="12.2">200</text>
<text x="580.80" y="586.42" text-anchor="end" font-size="12.2">205</text>
<text x="580.80" y="555.80" text-anchor="end" font-size="12.2">210</text>
<text x="580.80" y="525.19" text-anchor="end" font-size="12.2">215</text>
<text x="580.80" y="494.58" text-anchor="end" font-size="12.2">220</text>
<text x="580.80" y="463.97" text-anchor="end" font-size="12.2">225</text>
<text x="580.80" y="433.36" text-anchor="end" font-size="12.2">230</text>
<text x="580.80" y="402.75" text-anchor="end" font-size="12.2">235</text>
<text x="681.00" y="706.00" text-anchor="middle" font-size="13.4">Ice Ih Phase Fraction [%]</text>
<text transform="translate(554.90 526.50) rotate(-90)" text-anchor="middle" font-size="13.4">Temperature [K]</text>
<text x="541.6" y="375.6" font-size="22" letter-spacing="1.1">f.</text>
<text transform="translate(758.0 389.7) rotate(90)" font-size="17.4">Ice Ih - Ice II</text>
<clipPath id="c7"><rect x="43.1" y="726.6" width="191.9" height="294.79999999999995"/></clipPath>
<path d="M107.07 726.6V1021.4M171.03 726.6V1021.4M43.1 755.10H235.0M43.1 783.59H235.0M43.1 812.09H235.0M43.1 840.59H235.0M43.1 869.08H235.0M43.1 897.58H235.0M43.1 926.08H235.0M43.1 954.57H235.0M43.1 983.07H235.0M43.1 1011.57H235.0" stroke="#aaaaaa" stroke-width="0.9" fill="none"/>
<path d="M107.07 1021.4v-3.6M107.07 726.6v3.6M171.03 1021.4v-3.6M171.03 726.6v3.6M43.1 755.10h3.6M235.0 755.10h-3.6M43.1 783.59h3.6M235.0 783.59h-3.6M43.1 812.09h3.6M235.0 812.09h-3.6M43.1 840.59h3.6M235.0 840.59h-3.6M43.1 869.08h3.6M235.0 869.08h-3.6M43.1 897.58h3.6M235.0 897.58h-3.6M43.1 926.08h3.6M235.0 926.08h-3.6M43.1 954.57h3.6M235.0 954.57h-3.6M43.1 983.07h3.6M235.0 983.07h-3.6M43.1 1011.57h3.6M235.0 1011.57h-3.6" stroke="#1a1a1a" stroke-width="1" fill="none"/>
<g clip-path="url(#c7)" fill="none" stroke="#000" stroke-width="2.0" stroke-linejoin="round">
<path d="M43.10 980.60 L43.40 981.15 L43.71 981.69 L44.01 982.24 L44.31 982.78 L44.61 983.32 L44.91 983.86 L45.20 984.40 L45.50 984.94 L45.79 985.48 L46.09 986.03 L46.38 986.56 L46.67 987.10 L46.96 987.64 L47.24 988.18 L47.53 988.72 L47.81 989.26 L48.09 989.79 L48.38 990.33 L48.66 990.87 L48.93 991.40 L49.21 991.94 L49.49 992.47 L49.76 993.00 L50.03 993.54 L50.30 994.07 L50.57 994.60 L50.84 995.14 L51.11 995.67 L51.37 996.20 L51.64 996.73 L51.90 997.26 L52.16 997.79 L52.42 998.32 L52.67 998.85 L52.93 999.38 L53.18 999.91 L53.44 1000.44 L53.69 1000.97 L53.94 1001.49 L54.18 1002.02 L54.43 1002.55 L54.68 1003.07 L54.92 1003.60 L55.16 1004.12 L55.40 1004.65 L55.64 1005.17 L55.87 1005.70 L56.11 1006.22 L56.34 1006.74 L56.57 1007.27 L56.80 1007.79 L57.03 1008.31 L57.25 1008.83 L57.48 1009.35 L57.70 1009.87 L57.92 1010.40 L58.14 1010.92 L58.36 1011.43 L58.57 1011.95 L58.78 1012.47 L58.99 1012.99 L59.20 1013.51 L59.41 1014.03 L59.62 1014.54 L59.82 1015.06 L60.02 1015.58 L60.22 1016.09 L60.42 1016.61 L60.62 1017.12 L60.81 1017.64 L61.00 1018.15 L61.19 1018.67 L61.38 1019.18 L61.57 1019.69 L61.75 1020.21 L61.93 1020.72 L62.11 1021.23 L62.29 1021.74 L62.47 1022.25" stroke-dasharray="1.70 1.77"/>
<path d="M43.10 887.65 L44.47 889.56 L45.82 891.47 L47.16 893.38 L48.48 895.27 L49.79 897.16 L51.08 899.04 L52.36 900.92 L53.63 902.79 L54.89 904.65 L56.13 906.51 L57.36 908.36 L58.58 910.20 L59.78 912.04 L60.97 913.87 L62.16 915.70 L63.33 917.52 L64.49 919.33 L65.64 921.14 L66.77 922.94 L67.90 924.74 L69.02 926.53 L70.13 928.32 L71.22 930.10 L72.31 931.87 L73.39 933.64 L74.46 935.40 L75.51 937.16 L76.56 938.91 L77.60 940.66 L78.63 942.40 L79.65 944.14 L80.66 945.87 L81.67 947.60 L82.66 949.32 L83.64 951.04 L84.62 952.75 L85.59 954.45 L86.54 956.16 L87.49 957.85 L88.43 959.55 L89.36 961.23 L90.28 962.92 L91.20 964.60 L92.10 966.27 L93.00 967.94 L93.88 969.60 L94.76 971.26 L95.62 972.92 L96.48 974.57 L97.33 976.22 L98.17 977.86 L99.00 979.50 L99.81 981.13 L100.62 982.77 L101.42 984.39 L102.21 986.01 L102.99 987.63 L103.75 989.25 L104.51 990.86 L105.25 992.46 L105.98 994.06 L106.71 995.66 L107.42 997.25 L108.11 998.84 L108.80 1000.43 L109.47 1002.01 L110.13 1003.59 L110.78 1005.17 L111.41 1006.74 L112.03 1008.31 L112.64 1009.87 L113.23 1011.43 L113.81 1012.99 L114.37 1014.54 L114.92 1016.09 L115.45 1017.64 L115.97 1019.18 L116.47 1020.72 L116.95 1022.25" stroke-dasharray="6.30 7.40"/>
<path d="M43.10 802.41 L46.29 805.87 L49.40 809.31 L52.43 812.72 L55.39 816.11 L58.27 819.47 L61.09 822.81 L63.83 826.12 L66.51 829.41 L69.13 832.67 L71.69 835.91 L74.19 839.13 L76.63 842.33 L79.01 845.51 L81.34 848.66 L83.62 851.80 L85.86 854.91 L88.04 858.01 L90.18 861.08 L92.27 864.14 L94.32 867.18 L96.33 870.20 L98.30 873.20 L100.24 876.19 L102.13 879.16 L103.99 882.11 L105.82 885.04 L107.61 887.96 L109.38 890.86 L111.11 893.74 L112.82 896.61 L114.49 899.47 L116.14 902.31 L117.77 905.13 L119.37 907.94 L120.94 910.74 L122.50 913.52 L124.03 916.29 L125.54 919.04 L127.03 921.78 L128.49 924.51 L129.94 927.22 L131.37 929.92 L132.78 932.61 L134.18 935.29 L135.55 937.95 L136.91 940.60 L138.25 943.24 L139.58 945.87 L140.89 948.49 L142.18 951.09 L143.45 953.68 L144.71 956.27 L145.96 958.84 L147.18 961.40 L148.39 963.95 L149.59 966.48 L150.76 969.01 L151.93 971.53 L153.07 974.04 L154.19 976.54 L155.30 979.03 L156.39 981.50 L157.46 983.97 L158.51 986.43 L159.55 988.88 L160.56 991.32 L161.55 993.75 L162.51 996.18 L163.46 998.59 L164.38 1000.99 L165.27 1003.39 L166.14 1005.78 L166.99 1008.16 L167.81 1010.53 L168.59 1012.89 L169.35 1015.24 L170.08 1017.59 L170.77 1019.93 L171.43 1022.25" stroke-dasharray="6.50 2.10 3.20 2.10"/>
<path d="M46.35 730.02 L52.22 735.20 L57.89 740.30 L63.36 745.33 L68.64 750.28 L73.74 755.17 L78.66 760.00 L83.41 764.77 L88.00 769.48 L92.43 774.13 L96.70 778.72 L100.83 783.27 L104.81 787.76 L108.66 792.21 L112.37 796.61 L115.96 800.97 L119.43 805.28 L122.78 809.55 L126.02 813.77 L129.15 817.96 L132.18 822.11 L135.11 826.22 L137.94 830.30 L140.69 834.34 L143.35 838.34 L145.93 842.31 L148.43 846.25 L150.85 850.16 L153.21 854.03 L155.49 857.88 L157.72 861.69 L159.88 865.48 L161.98 869.24 L164.03 872.97 L166.03 876.67 L167.98 880.35 L169.88 884.00 L171.74 887.62 L173.55 891.22 L175.33 894.80 L177.07 898.35 L178.78 901.88 L180.45 905.38 L182.09 908.87 L183.70 912.33 L185.28 915.77 L186.84 919.19 L188.37 922.58 L189.88 925.96 L191.36 929.32 L192.82 932.65 L194.26 935.97 L195.68 939.27 L197.09 942.55 L198.47 945.82 L199.83 949.06 L201.18 952.29 L202.50 955.50 L203.81 958.69 L205.10 961.86 L206.37 965.02 L207.63 968.17 L208.86 971.29 L210.07 974.41 L211.27 977.50 L212.44 980.58 L213.59 983.65 L214.72 986.70 L215.82 989.74 L216.90 992.76 L217.95 995.77 L218.97 998.77 L219.96 1001.75 L220.93 1004.72 L221.85 1007.67 L222.75 1010.61 L223.60 1013.54 L224.42 1016.46 L225.19 1019.36 L225.92 1022.25"/>
</g>
<path d="M43.1 726.6H235.0M43.1 1021.4H235.0" stroke="#1a1a1a" stroke-width="1"/>
<path d="M43.1 726.6V1021.4" stroke="#1a1a1a" stroke-width="1"/>
<path d="M235.0 726.6V1021.4" stroke="#1a1a1a" stroke-width="1"/>
<text x="43.10" y="1038.10" text-anchor="middle" font-size="12.2">0</text>
<text x="107.07" y="1038.10" text-anchor="middle" font-size="12.2">0.2</text>
<text x="171.03" y="1038.10" text-anchor="middle" font-size="12.2">0.4</text>
<text x="235.00" y="1038.10" text-anchor="middle" font-size="12.2">0.6</text>
<text x="38.50" y="731.30" text-anchor="end" font-size="12.2">0</text>
<text x="38.50" y="759.80" text-anchor="end" font-size="12.2">20</text>
<text x="38.50" y="788.29" text-anchor="end" font-size="12.2">40</text>
<text x="38.50" y="816.79" text-anchor="end" font-size="12.2">60</text>
<text x="38.50" y="845.29" text-anchor="end" font-size="12.2">80</text>
<text x="38.50" y="873.78" text-anchor="end" font-size="12.2">100</text>
<text x="38.50" y="902.28" text-anchor="end" font-size="12.2">120</text>
<text x="38.50" y="930.78" text-anchor="end" font-size="12.2">140</text>
<text x="38.50" y="959.27" text-anchor="end" font-size="12.2">160</text>
<text x="38.50" y="987.77" text-anchor="end" font-size="12.2">180</text>
<text x="38.50" y="1016.27" text-anchor="end" font-size="12.2">200</text>
<text x="138.75" y="1055.00" text-anchor="middle" font-size="13.4">Ice Ih Phase Fraction [%]</text>
<text transform="translate(12.60 873.50) rotate(-90)" text-anchor="middle" font-size="13.4">Pressure [MPa]</text>
<text x="3.2" y="729.0" font-size="22" letter-spacing="1.1">g.</text>
<text x="117.2" y="772.1" font-size="17.3">Ice Ih - Liquid</text>
<clipPath id="c8"><rect x="310.6" y="727.1" width="191.59999999999997" height="295.1"/></clipPath>
<path d="M374.47 727.1V1022.2M438.33 727.1V1022.2M310.6 779.37H502.2M310.6 844.05H502.2M310.6 908.74H502.2M310.6 973.43H502.2" stroke="#aaaaaa" stroke-width="0.9" fill="none"/>
<path d="M374.47 1022.2v-3.6M374.47 727.1v3.6M438.33 1022.2v-3.6M438.33 727.1v3.6M310.6 779.37h3.6M502.2 779.37h-3.6M310.6 844.05h3.6M502.2 844.05h-3.6M310.6 908.74h3.6M502.2 908.74h-3.6M310.6 973.43h3.6M502.2 973.43h-3.6" stroke="#1a1a1a" stroke-width="1" fill="none"/>
<g clip-path="url(#c8)" fill="none" stroke="#000" stroke-width="2.0" stroke-linejoin="round">
<path d="M341.58 727.10 L344.45 1022.20" stroke-dasharray="1.70 1.77"/>
<path d="M381.81 727.10 L385.32 1022.20" stroke-dasharray="6.30 7.40"/>
<path d="M423.01 727.10 L425.56 1022.20" stroke-dasharray="6.50 2.10 3.20 2.10"/>
<path d="M463.24 727.10 L466.43 1022.20"/>
</g>
<path d="M310.6 727.1H502.2M310.6 1022.2H502.2" stroke="#1a1a1a" stroke-width="1"/>
<path d="M310.6 727.1V1022.2" stroke="#1a1a1a" stroke-width="1"/>
<path d="M502.2 727.1V1022.2" stroke="#1a1a1a" stroke-width="1"/>
<text x="310.60" y="1039.00" text-anchor="middle" font-size="12.2">0.2</text>
<text x="374.47" y="1039.00" text-anchor="middle" font-size="12.2">0.4</text>
<text x="438.33" y="1039.00" text-anchor="middle" font-size="12.2">0.6</text>
<text x="502.20" y="1039.00" text-anchor="middle" font-size="12.2">0.8</text>
<text x="306.00" y="784.07" text-anchor="end" font-size="12.2">208</text>
<text x="306.00" y="848.75" text-anchor="end" font-size="12.2">208.5</text>
<text x="306.00" y="913.44" text-anchor="end" font-size="12.2">209</text>
<text x="306.00" y="978.13" text-anchor="end" font-size="12.2">209.5</text>
<text x="405.80" y="1055.40" text-anchor="middle" font-size="13.4">Ice Ih Phase Fraction [%]</text>
<text transform="translate(271.30 873.70) rotate(-90)" text-anchor="middle" font-size="13.4">Pressure [MPa]</text>
<text x="275.6" y="728.1" font-size="22" letter-spacing="1.1">h.</text>
<text transform="translate(478.8 755.4) rotate(90)" font-size="17.3">Ice Ih - Ice III</text>
<clipPath id="c9"><rect x="585.75" y="728.1" width="191.35000000000002" height="295.1"/></clipPath>
<path d="M624.02 728.1V1023.2M700.56 728.1V1023.2M585.75 747.10H777.1M585.75 786.69H777.1M585.75 826.28H777.1M585.75 865.87H777.1M585.75 905.46H777.1M585.75 945.05H777.1M585.75 984.64H777.1" stroke="#aaaaaa" stroke-width="0.9" fill="none"/>
<path d="M624.02 1023.2v-3.6M624.02 728.1v3.6M700.56 1023.2v-3.6M700.56 728.1v3.6M585.75 747.10h3.6M777.1 747.10h-3.6M585.75 786.69h3.6M777.1 786.69h-3.6M585.75 826.28h3.6M777.1 826.28h-3.6M585.75 865.87h3.6M777.1 865.87h-3.6M585.75 905.46h3.6M777.1 905.46h-3.6M585.75 945.05h3.6M777.1 945.05h-3.6M585.75 984.64h3.6M777.1 984.64h-3.6" stroke="#1a1a1a" stroke-width="1" fill="none"/>
<g clip-path="url(#c9)" fill="none" stroke="#000" stroke-width="2.0" stroke-linejoin="round">
<path d="M612.16 1023.20 L615.41 728.10" stroke-dasharray="1.70 1.77"/>
<path d="M655.98 1023.20 L659.61 728.10" stroke-dasharray="6.30 7.40"/>
<path d="M700.56 1023.20 L703.62 728.10" stroke-dasharray="6.50 2.10 3.20 2.10"/>
<path d="M745.34 1023.20 L748.01 728.10"/>
</g>
<path d="M585.75 728.1H777.1M585.75 1023.2H777.1" stroke="#1a1a1a" stroke-width="1"/>
<path d="M585.75 728.1V1023.2" stroke="#1a1a1a" stroke-width="1"/>
<path d="M777.1 728.1V1023.2" stroke="#1a1a1a" stroke-width="1"/>
<text x="624.02" y="1039.90" text-anchor="middle" font-size="12.2">0.4</text>
<text x="700.56" y="1039.90" text-anchor="middle" font-size="12.2">0.6</text>
<text x="777.10" y="1039.90" text-anchor="middle" font-size="12.2">0.8</text>
<text x="581.15" y="752.10" text-anchor="end" font-size="12.2">175</text>
<text x="581.15" y="791.69" text-anchor="end" font-size="12.2">180</text>
<text x="581.15" y="831.28" text-anchor="end" font-size="12.2">185</text>
<text x="581.15" y="870.87" text-anchor="end" font-size="12.2">190</text>
<text x="581.15" y="910.46" text-anchor="end" font-size="12.2">195</text>
<text x="581.15" y="950.05" text-anchor="end" font-size="12.2">200</text>
<text x="581.15" y="989.64" text-anchor="end" font-size="12.2">205</text>
<text x="681.50" y="1056.10" text-anchor="middle" font-size="13.4">Ice Ih Phase Fraction [%]</text>
<text transform="translate(555.70 874.80) rotate(-90)" text-anchor="middle" font-size="13.4">Pressure [MPa]</text>
<text x="553.7" y="728.1" font-size="22" letter-spacing="1.1">i.</text>
<text transform="translate(758.8 755.4) rotate(90)" font-size="17.4">Ice Ih - Ice II</text>
</svg></body></html>
